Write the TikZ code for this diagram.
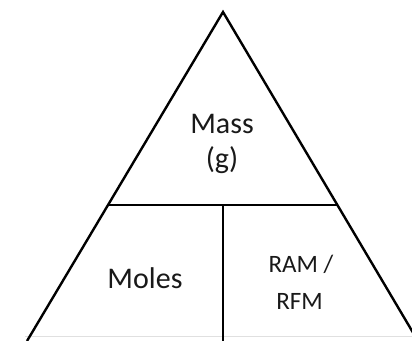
\documentclass[tikz,border=0pt]{standalone}
\usepackage{fontspec}
\setmainfont{Carlito}
\begin{document}
\begin{tikzpicture}[x=1pt,y=-1pt,
  edge/.style={line width=2.4pt,black},
  big/.style={font=\fontsize{30}{35}\selectfont,inner sep=0pt,anchor=base,text=black!90},
  small/.style={font=\fontsize{25}{30}\selectfont,inner sep=0pt,anchor=base,text=black!90}]
\useasboundingbox (0,0) rectangle (412,340);
\fill[white] (0,0) rectangle (412,340);
\clip (0,0) rectangle (412,340);
\coordinate (apex) at (223,12);
\coordinate (bl) at (27,341);
\coordinate (br) at (418,341);
\coordinate (ml) at (108,205);
\coordinate (mr) at (337,205);
\coordinate (mt) at (223,205);
\coordinate (mb) at (223,341);
\draw[black!12,line width=1pt] (25,336) -- (412,336);
\draw[edge,line join=miter] (bl) -- (apex) -- (br);
\draw[edge] (ml) -- (mr);
\draw[edge] (mt) -- (mb);
\node[big] (mass) at (222,133) {Mass};
\node[big] (massunit) at (222,168) {(g)};
\node[big] (moles) at (145,288) {Moles};
\node[small] (ram) at (301,272) {RAM /};
\node[small] (rfm) at (299.5,309) {RFM};
\end{tikzpicture}
\end{document}
